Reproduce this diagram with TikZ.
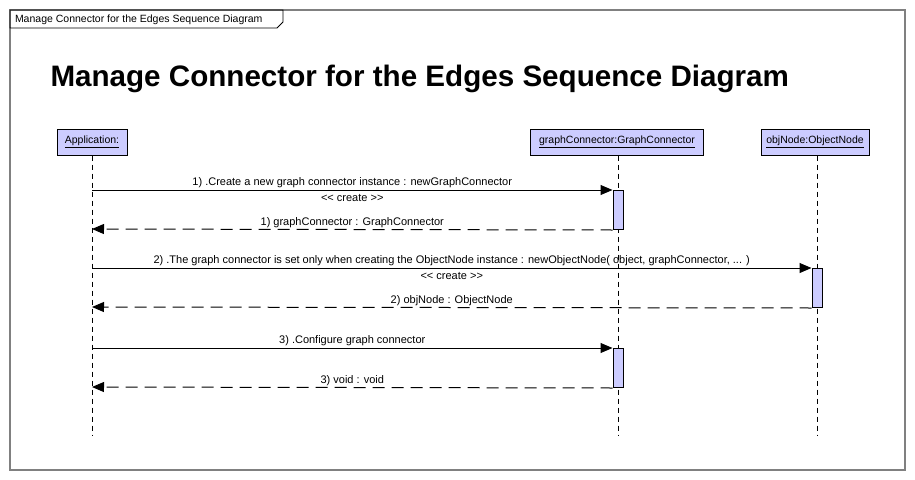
\documentclass[tikz,border=0pt]{standalone}
\usepackage{fontspec}
\setmainfont{Liberation Sans}
\usetikzlibrary{arrows.meta}
\definecolor{lifefill}{RGB}{204,204,255}
\definecolor{framegray}{RGB}{128,128,128}
\tikzset{
  head/.style={draw, fill=lifefill, inner sep=0pt, minimum height=26pt, font=\fontsize{10.5}{12}\selectfont},
  lifeline/.style={dash pattern=on 5pt off 4pt},
  actbox/.style={draw, fill=lifefill, minimum width=10pt, inner sep=0pt, anchor=north},
  msg/.style={-{Triangle[length=12pt,width=10pt]}},
  ret/.style={dash pattern=on 12pt off 7pt, -{Triangle[length=12pt,width=10pt]}},
  lbl/.style={font=\fontsize{11}{12}\selectfont, inner sep=1.5pt}
}
\begin{document}
\begin{tikzpicture}[x=1pt,y=-1pt, line width=1pt]
  \useasboundingbox (0,0) rectangle (915,479);
  % frame and tab
  \draw[framegray, line width=1.3pt] (10,10) rectangle (905,470);
  \draw[line width=0.8pt] (10,10) -- (283,10) -- (283,22) -- (277,28) -- (10,28) -- cycle;
  \node[lbl, anchor=west, font=\fontsize{10.5}{12}\selectfont] (tab) at (13,19.5) {Manage Connector for the Edges Sequence Diagram};
  \node[anchor=west, inner sep=0pt, font=\fontsize{29.6}{32}\selectfont\bfseries] (title) at (50,79)
    {Manage Connector for the Edges Sequence Diagram};
  % lifelines
  \node[head, minimum width=70pt] (app) at (92,142) {\underline{Application:}};
  \node[head, minimum width=173pt] (conn) at (617,142) {\underline{graphConnector:GraphConnector}};
  \node[head, minimum width=108pt] (obj) at (815,142) {\underline{objNode:ObjectNode}};
  \coordinate (appEnd) at (92,435);
  \coordinate (connEnd) at (618,435);
  \coordinate (objEnd) at (817,435);
  \draw[lifeline, line width=0.9pt] (app.south) -- (appEnd);
  \draw[lifeline, line width=0.9pt] (conn.south -| connEnd) -- (connEnd);
  \draw[lifeline, line width=0.9pt] (obj.south -| objEnd) -- (objEnd);
  % activations
  \node[actbox, minimum height=39pt] (act1) at (618,190) {};
  \node[actbox, minimum height=39pt] (act2) at (817,268) {};
  \node[actbox, minimum height=39pt] (act3) at (618,348) {};
  % calls
  \coordinate (a1) at (92,190);  \coordinate (r1) at (92,229);
  \coordinate (a2) at (92,268);  \coordinate (r2) at (92,307);
  \coordinate (a3) at (92,348);  \coordinate (r3) at (92,387);
  \draw[msg] (a1) -- node[lbl, above] {1) .Create a new graph connector instance : newGraphConnector}
    node[lbl, below=2.5pt] {<\kern0pt< create >\kern0pt>} (act1.north west);
  \draw[ret] (act1.south west) -- node[lbl, above] {1) graphConnector : GraphConnector} (r1);
  \draw[msg] (a2) -- node[lbl, above] {2) .The graph connector is set only when creating the ObjectNode instance : newObjectNode( object, graphConnector, ... )}
    node[lbl, below=2.5pt] {<\kern0pt< create >\kern0pt>} (act2.north west);
  \draw[ret] (act2.south west) -- node[lbl, above] {2) objNode : ObjectNode} (r2);
  \draw[msg] (a3) -- node[lbl, above] {3) .Configure graph connector} (act3.north west);
  \draw[ret] (act3.south west) -- node[lbl, above] {3) void : void} (r3);
\end{tikzpicture}
\end{document}
